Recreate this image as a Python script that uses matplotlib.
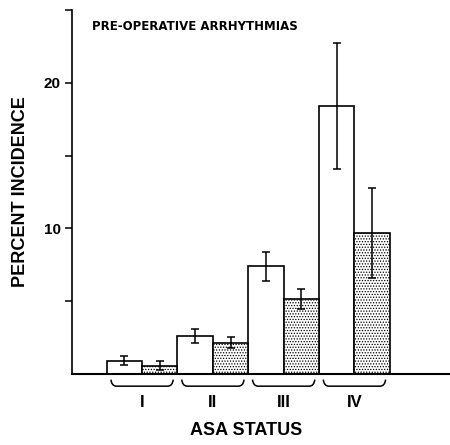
import matplotlib
matplotlib.use('Agg')
import matplotlib.pyplot as plt
from matplotlib.path import Path
from matplotlib.patches import PathPatch

# data
groups = ['I', 'II', 'III', 'IV']
open_vals = [0.9, 2.6, 7.4, 18.4]
open_err = [0.3, 0.45, 1.0, 4.3]
dot_vals = [0.55, 2.15, 5.15, 9.65]
dot_err = [0.3, 0.4, 0.7, 3.1]

plt.rcParams['font.family'] = ['Liberation Sans', 'DejaVu Sans']
plt.rcParams['hatch.linewidth'] = 0.6

fig = plt.figure(figsize=(4.5, 4.45), dpi=100)
ax = fig.add_axes([0.16, 0.16, 0.84, 0.8175])

pos = list(range(1, len(groups) + 1))
w = 0.5
ax.bar([p - w / 2 for p in pos], open_vals, width=w, color='white',
       edgecolor='black', linewidth=1.2, yerr=open_err, capsize=3,
       error_kw=dict(elinewidth=1.1, capthick=1.1, ecolor='black'))
ax.bar([p + w / 2 for p in pos], dot_vals, width=w, color='white',
       edgecolor='black', linewidth=1.2, hatch='......', yerr=dot_err, capsize=3,
       error_kw=dict(elinewidth=1.1, capthick=1.1, ecolor='black'))

# braces under each group
for p, g in zip(pos, groups):
    l, r = p - 0.44, p + 0.44
    verts = [(l, -0.4), (l + 0.01, -0.85), (l + 0.08, -0.85),
             (r - 0.08, -0.85), (r - 0.01, -0.85), (r, -0.4)]
    codes = [Path.MOVETO, Path.CURVE3, Path.CURVE3,
             Path.LINETO, Path.CURVE3, Path.CURVE3]
    ax.add_patch(PathPatch(Path(verts, codes), fill=False, lw=1.1,
                           color='black', clip_on=False))
    ax.text(p, -1.95, g, ha='center', va='center', fontsize=12,
            fontweight='bold', clip_on=False)

ax.set_xlim(0.01, 5.35)
ax.set_ylim(0, 25)
ax.set_yticks([5, 10, 15, 20, 25])
ax.set_yticklabels(['', '10', '', '20', ''])
ax.set_xticks([])
ax.tick_params(axis='y', length=5, width=1.1, labelsize=11, pad=3)
for t in ax.get_yticklabels():
    t.set_fontweight('bold')
ax.spines['top'].set_visible(False)
ax.spines['right'].set_visible(False)
ax.spines['left'].set_linewidth(1.2)
ax.spines['bottom'].set_linewidth(1.5)

ax.set_ylabel('PERCENT INCIDENCE', fontsize=13, fontweight='bold',
              va='center', ha='center')
ax.yaxis.set_label_coords(-0.135, 0.5)
ax.set_xlabel('ASA STATUS', fontsize=13, fontweight='bold',
              va='center', ha='center')
ax.xaxis.set_label_coords(0.46, -0.157)
ax.text(0.053, 0.955, 'PRE-OPERATIVE ARRHYTHMIAS', transform=ax.transAxes,
        fontsize=8.5, fontweight='bold', va='center', family='DejaVu Sans')

fig.savefig('out.png', dpi=100)
